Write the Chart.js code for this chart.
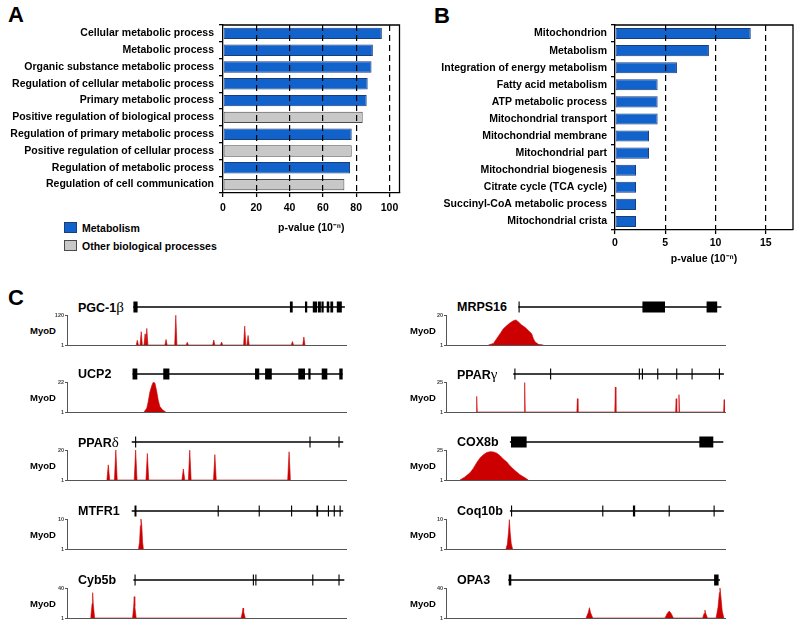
<!DOCTYPE html>
<html>
<head>
<meta charset="utf-8">
<script src="https://cdn.jsdelivr.net/npm/chart.js@4.4.1/dist/chart.umd.min.js"></script>
<style>
  body { margin: 0; background: #fff; font-family: Arial, "Liberation Sans", sans-serif; }
  #page { position: relative; width: 800px; height: 626px; overflow: hidden; }
  canvas { position: absolute; }
  .panel { position: absolute; font-weight: bold; font-size: 22px; line-height: 22px; }
  .gene { position: absolute; font-weight: bold; font-size: 12.5px; line-height: 14px; transform: translateY(-50%); white-space: nowrap; }
  .myod { position: absolute; font-weight: bold; font-size: 9.5px; line-height: 11px; transform: translateY(-50%); }
  .greek { font-family: "Liberation Serif", serif; font-weight: normal; font-size: 15px; }
  .sw { position: absolute; width: 13px; height: 11px; box-sizing: border-box; border: 1px solid #333; }
  .lg { position: absolute; font-weight: bold; font-size: 10.5px; line-height: 12px; transform: translateY(-50%); white-space: nowrap; }
</style>
</head>
<body>
<div id="page">
  <div class="panel" style="left:8px;top:4px">A</div>
  <div class="panel" style="left:434px;top:5px">B</div>
  <div class="panel" style="left:8px;top:287px">C</div>

  <div class="sw" style="left:64px;top:222px;background:#1262cc;border-color:#1b3d7a"></div>
  <div class="lg" style="left:82px;top:228px">Metabolism</div>
  <div class="sw" style="left:64px;top:240px;background:#c8c8c8;border-color:#4a4a4a"></div>
  <div class="lg" style="left:82px;top:246px">Other biological processes</div>
</div>
<script>
/*=============== DATA ===============*/
// Panel A
const aLabels = ['Cellular metabolic process', 'Metabolic process', 'Organic substance metabolic process',
  'Regulation of cellular metabolic process', 'Primary metabolic process', 'Positive regulation of biological process',
  'Regulation of primary metabolic process', 'Positive regulation of cellular process',
  'Regulation of metabolic process', 'Regulation of cell communication'];
const aValues = [95.4, 90.0, 89.2, 86.9, 86.3, 83.9, 77.3, 77.3, 76.3, 72.9];
const aIsMetabolism = [true, true, true, true, true, false, true, false, true, false];

// Panel B
const bLabels = ['Mitochondrion', 'Metabolism', 'Integration of energy metabolism', 'Fatty acid metabolism',
  'ATP metabolic process', 'Mitochondrial transport', 'Mitochondrial membrane', 'Mitochondrial part',
  'Mitochondrial biogenesis', 'Citrate cycle (TCA cycle)', 'Succinyl-CoA metabolic process', 'Mitochondrial crista'];
const bValues = [13.5, 9.34, 6.16, 4.24, 4.24, 4.24, 3.38, 3.38, 2.09, 2.09, 2.09, 2.09];

// Panel C : gene tracks (x in 0-100 track units), left column then right column
const geneNames = ['PGC-1β', 'UCP2', 'PPARδ', 'MTFR1', 'Cyb5b', 'MRPS16', 'PPARγ', 'COX8b', 'Coq10b', 'OPA3'];
const signalMax = [120, 22, 20, 10, 40, 20, 25, 25, 10, 40];
const geneSpans = [[23.7, 99.6], [23.5, 98.8], [23.2, 99.0], [23.2, 99.0], [23.8, 99.4],
  [25.9, 98.7], [24.1, 99.6], [22.9, 99.4], [22.9, 99.6], [22.3, 98.2]];
const geneExons = [
  [[23.8, 25.3], [79.9, 80.9], [85.3, 86.1], [88.1, 89.6], [89.9, 91.0], [91.2, 92.0], [93.1, 94.0], [94.4, 95.4], [96.7, 98.5]],
  [[23.5, 25.2], [34.5, 36.7], [67.4, 68.9], [71.0, 73.4], [82.9, 85.3], [86.5, 87.3], [91.3, 93.3], [97.6, 98.8]],
  [[24.4, 24.8], [86.9, 87.3], [97.3, 97.7]],
  [[24.2, 24.9], [54.0, 54.4], [68.7, 69.1], [80.3, 80.7], [89.4, 90.0], [93.5, 93.9], [95.6, 96.0], [97.7, 98.1]],
  [[24.2, 24.6], [66.6, 67.0], [67.5, 67.9], [87.9, 88.3], [97.3, 97.7]],
  [[26.0, 26.4], [70.4, 78.5], [93.4, 97.2]],
  [[24.5, 24.9], [37.3, 37.7], [69.1, 69.5], [70.2, 70.6], [75.7, 76.1], [82.5, 82.9], [88.0, 88.4], [97.8, 98.2]],
  [[23.3, 28.9], [90.8, 95.8]],
  [[23.3, 23.7], [56.0, 56.4], [67.0, 67.8], [79.8, 80.2], [95.9, 96.3]],
  [[22.5, 23.4], [96.1, 97.7]]
];
// MyoD signal, [x, value] points
const signalPoints = [
  [[24.8,1],[25.2,20],[25.6,1],[26.2,1],[26.6,54],[27.0,1],[27.6,1],[28.0,45],[28.3,1],[28.6,67],[29.0,1],
   [35.1,1],[35.5,23],[35.9,1],[38.6,1],[39.0,119],[39.4,1],[42.7,1],[43.1,12],[43.5,1],[52.2,1],[52.6,21],[53.0,1],
   [55.0,1],[55.4,13],[55.8,1],[63.3,1],[63.7,76],[64.1,1],[64.5,1],[64.9,39],[65.3,1],[80.4,1],[80.8,15],[81.2,1],
   [84.5,1],[84.9,33],[85.3,1]],
  [[27.6,1],[28.6,3.7],[29.1,8.2],[29.7,15],[30.4,19.5],[30.9,21.8],[31.5,21.3],[32.1,16.1],[32.7,9.3],[33.3,4.8],[34.2,2.6],[35.4,1]],
  [[14.3,1],[14.8,10.6],[15.3,1],[17.0,1],[17.5,20],[18.0,1],[24.1,1],[24.6,20],[25.1,1],[28.3,1],[28.8,17.8],[29.3,1],
   [41.2,1],[41.7,8],[42.2,1],[43.5,1],[44.0,19.9],[44.5,1],[52.5,1],[53.0,17.1],[53.5,1],[79.1,1],[79.6,18.9],[80.1,1]],
  [[25.6,1],[26.0,3],[26.3,8],[26.5,10],[26.8,8],[27.1,3],[27.4,1]],
  [[8.5,1],[9.0,20],[9.2,34],[9.4,20],[9.9,1],[23.5,1],[23.9,16],[24.1,28.8],[24.3,16],[24.8,1],
   [62.4,1],[62.9,9],[63.1,14],[63.3,9],[63.9,1]],
  [[15.2,1],[17.0,2.0],[18.2,5.1],[19.4,8.2],[20.5,11.2],[21.8,13.3],[22.9,14.9],[24.1,16.3],[25.1,16.9],[25.9,15.7],
   [27.1,13.7],[28.3,12.2],[29.5,10.2],[30.7,8.2],[31.3,5.1],[31.9,3.0],[33.1,1.4],[34.9,1]],
  [[10.8,1],[11.0,13.5],[11.2,1],[28.0,1],[28.2,24.5],[28.4,1],[46.9,1],[47.1,11.7],[47.3,1],[60.5,1],[60.7,21],[60.9,1],
   [82.3,1],[82.5,11.7],[82.7,1],[83.3,1],[83.5,14.9],[83.7,1],[99.5,1],[99.7,10.9],[99.9,1]],
  [[5.0,1],[6.8,3.5],[8.6,6.8],[9.8,10.3],[11.0,14.9],[12.2,18.7],[13.4,21.2],[14.6,23.0],[15.8,23.7],[17.0,23.5],
   [18.2,22.5],[19.4,20.4],[20.5,17.9],[21.8,15.4],[22.9,12.4],[24.7,8.6],[26.5,5.3],[28.3,2.8],[29.5,1]],
  [[21.5,1],[22.0,2.5],[22.4,6],[22.7,9.8],[23.0,6],[23.4,2.5],[23.9,1]],
  [[50.2,1],[51.0,8],[51.4,14.4],[51.8,8],[52.6,1],[78.5,1],[79.3,7],[80.0,10],[80.7,7],[81.5,1],
   [92.0,1],[92.5,7],[92.8,11.3],[93.1,7],[93.7,1],[96.8,1],[97.5,15],[98.0,34],[98.2,40],[98.5,30],[99.0,10],[99.6,1]]
];

/*=============== SETUP ===============*/
Chart.defaults.font.family = 'Arial, "Liberation Sans", sans-serif';
Chart.defaults.animation = false;
Chart.defaults.plugins.legend.display = false;
Chart.defaults.plugins.tooltip.enabled = false;

const page = document.getElementById('page');
const BLUE = '#1262cc', BLUE_EDGE = '#1b3d7a', GREY = '#c8c8c8', GREY_EDGE = '#4a4a4a', RED = '#cc0000';

function addCanvas(left, top, w, h) {
    const c = document.createElement('canvas');
    c.width = w; c.height = h;
    c.style.left = left + 'px'; c.style.top = top + 'px';
    c.style.width = w + 'px'; c.style.height = h + 'px';
    page.appendChild(c);
    return c;
}

function addText(cls, left, top, html) {
    const d = document.createElement('div');
    d.className = cls;
    d.style.left = left + 'px'; d.style.top = top + 'px';
    d.innerHTML = html;
    page.appendChild(d);
}

/*=============== BAR PANELS ===============*/
// closes the plot box (top and right sides)
const framePlugin = {
    id: 'frame',
    afterDraw(chart) {
        const ctx = chart.ctx, a = chart.chartArea;
        ctx.save();
        ctx.strokeStyle = '#000';
        ctx.lineWidth = 1.3;
        ctx.beginPath();
        ctx.moveTo(a.left, a.top);
        ctx.lineTo(a.right, a.top);
        ctx.lineTo(a.right, a.bottom);
        ctx.stroke();
        ctx.restore();
    }
};

function barPanel(canvas, labels, datasets, opt) {
    const bold = { size: 10.5, weight: 'bold' };
    new Chart(canvas, {
        type: 'bar',
        data: { labels: labels, datasets: datasets },
        plugins: [framePlugin],
        options: {
            responsive: false,
            indexAxis: 'y',
            layout: { padding: opt.padding },
            scales: {
                x: {
                    type: 'linear', min: 0, max: opt.max,
                    ticks: { stepSize: opt.step, includeBounds: false, font: bold, color: '#000', padding: opt.tickPad },
                    // dashed grid drawn over the bars; border on the same layer so it is placed after the grid
                    grid: {
                        color: c => (c.tick && c.tick.value === 0) ? 'rgba(0,0,0,0)' : '#000',
                        lineWidth: 1.2, tickColor: '#000', tickLength: 4, tickWidth: 1.3, z: 1
                    },
                    border: { display: true, color: '#000', width: 1.3, dash: [6, 4], z: 1 },
                    title: { display: true, text: 'p-value (10⁻ⁿ)', font: bold, color: '#000', padding: { top: 4, bottom: 4 } },
                    afterFit: s => { s.height = opt.xHeight; }
                },
                y: {
                    type: 'category', offset: true,
                    ticks: { font: bold, color: '#000', padding: opt.labelPad, autoSkip: false },
                    grid: { offset: true, drawOnChartArea: false, tickLength: 4, color: '#000', lineWidth: 1.3 },
                    border: { display: true, color: '#000', width: 1.3 },
                    afterFit: s => { s.width = opt.yWidth; }
                }
            }
        }
    });
}

function bars(values, keep, fill, edge, pct) {
    return {
        data: values.map((v, i) => keep[i] ? v : null),
        backgroundColor: fill, borderColor: edge, borderWidth: 1,
        barPercentage: pct, categoryPercentage: 1, grouped: false, borderSkipped: false
    };
}

barPanel(addCanvas(0, 0, 410, 240), aLabels, [
    bars(aValues, aIsMetabolism, BLUE, BLUE_EDGE, 0.68),
    bars(aValues, aIsMetabolism.map(m => !m), GREY, GREY_EDGE, 0.68)
], { max: 106, step: 20, padding: { top: 25, right: 10.5, bottom: 2, left: 0 }, xHeight: 45, yWidth: 223, tickPad: 5, labelPad: 5 });

barPanel(addCanvas(400, 0, 400, 275), bLabels, [
    bars(bValues, bValues.map(() => true), BLUE, BLUE_EDGE, 0.65)
], { max: 17.7, step: 5, padding: { top: 25, right: 7, bottom: 6, left: 0 }, xHeight: 39, yWidth: 215, tickPad: 3, labelPad: 4 });

/*=============== GENE TRACKS ===============*/
const trackY = [307, 374, 442, 511, 580];
const colAxisX = [67, 446];
const colNameX = [78, 457];
const colMyoDX = [30, 410];
const trackW = 279;

geneNames.forEach((name, i) => {
    const col = i < 5 ? 0 : 1;
    const y0 = trackY[i % 5];
    const ax = colAxisX[col];

    // gene name and MyoD label
    addText('gene', colNameX[col], y0, name.replace(/([βγδ])/, '<span class="greek">$1</span>'));
    addText('myod', colMyoDX[col], y0 + 23, 'MyoD');

    // gene structure: intron line + exon boxes
    const exonPts = [];
    geneExons[i].forEach(e => {
        exonPts.push({ x: e[0], y: 0 }, { x: e[1], y: 0 }, { x: e[1], y: null });
    });
    new Chart(addCanvas(ax, y0 - 8, trackW, 16), {
        type: 'line',
        data: {
            datasets: [
                { data: geneSpans[i].map(x => ({ x: x, y: 0 })), borderColor: '#000', borderWidth: 1.3, clip: false },
                { data: exonPts, borderColor: '#000', borderWidth: 11, borderCapStyle: 'butt', spanGaps: false, clip: false }
            ]
        },
        options: {
            responsive: false,
            layout: { padding: 0 },
            elements: { point: { radius: 0 }, line: { tension: 0 } },
            scales: {
                x: { type: 'linear', min: 0, max: 100, display: false },
                y: { type: 'linear', min: -1, max: 1, display: false }
            }
        }
    });

    // MyoD signal
    const max = signalMax[i];
    new Chart(addCanvas(ax - 30, y0 + 3, trackW + 36, 40), {
        type: 'line',
        data: {
            datasets: [{
                data: signalPoints[i].map(p => ({ x: p[0], y: p[1] })),
                borderColor: RED, backgroundColor: RED, borderWidth: 0.6, fill: 'start'
            }]
        },
        options: {
            responsive: false,
            layout: { padding: { top: 5, bottom: 5, left: 0, right: 6 } },
            elements: { point: { radius: 0 }, line: { tension: 0 } },
            scales: {
                x: {
                    type: 'linear', min: 0, max: 100,
                    ticks: { display: false }, grid: { display: true, drawOnChartArea: false, drawTicks: false },
                    border: { display: true, color: '#555', width: 1 },
                    afterFit: s => { s.height = 0; }
                },
                y: {
                    type: 'linear', min: 1, max: max,
                    afterBuildTicks: s => { s.ticks = [{ value: 1 }, { value: max }]; },
                    ticks: { font: { size: 5.5, weight: 'bold' }, color: '#444', padding: 1 },
                    grid: { drawOnChartArea: false, tickLength: 2, color: '#555' },
                    border: { display: true, color: '#555', width: 1 },
                    afterFit: s => { s.width = 30; }
                }
            }
        }
    });
});
</script>
</body>
</html>
